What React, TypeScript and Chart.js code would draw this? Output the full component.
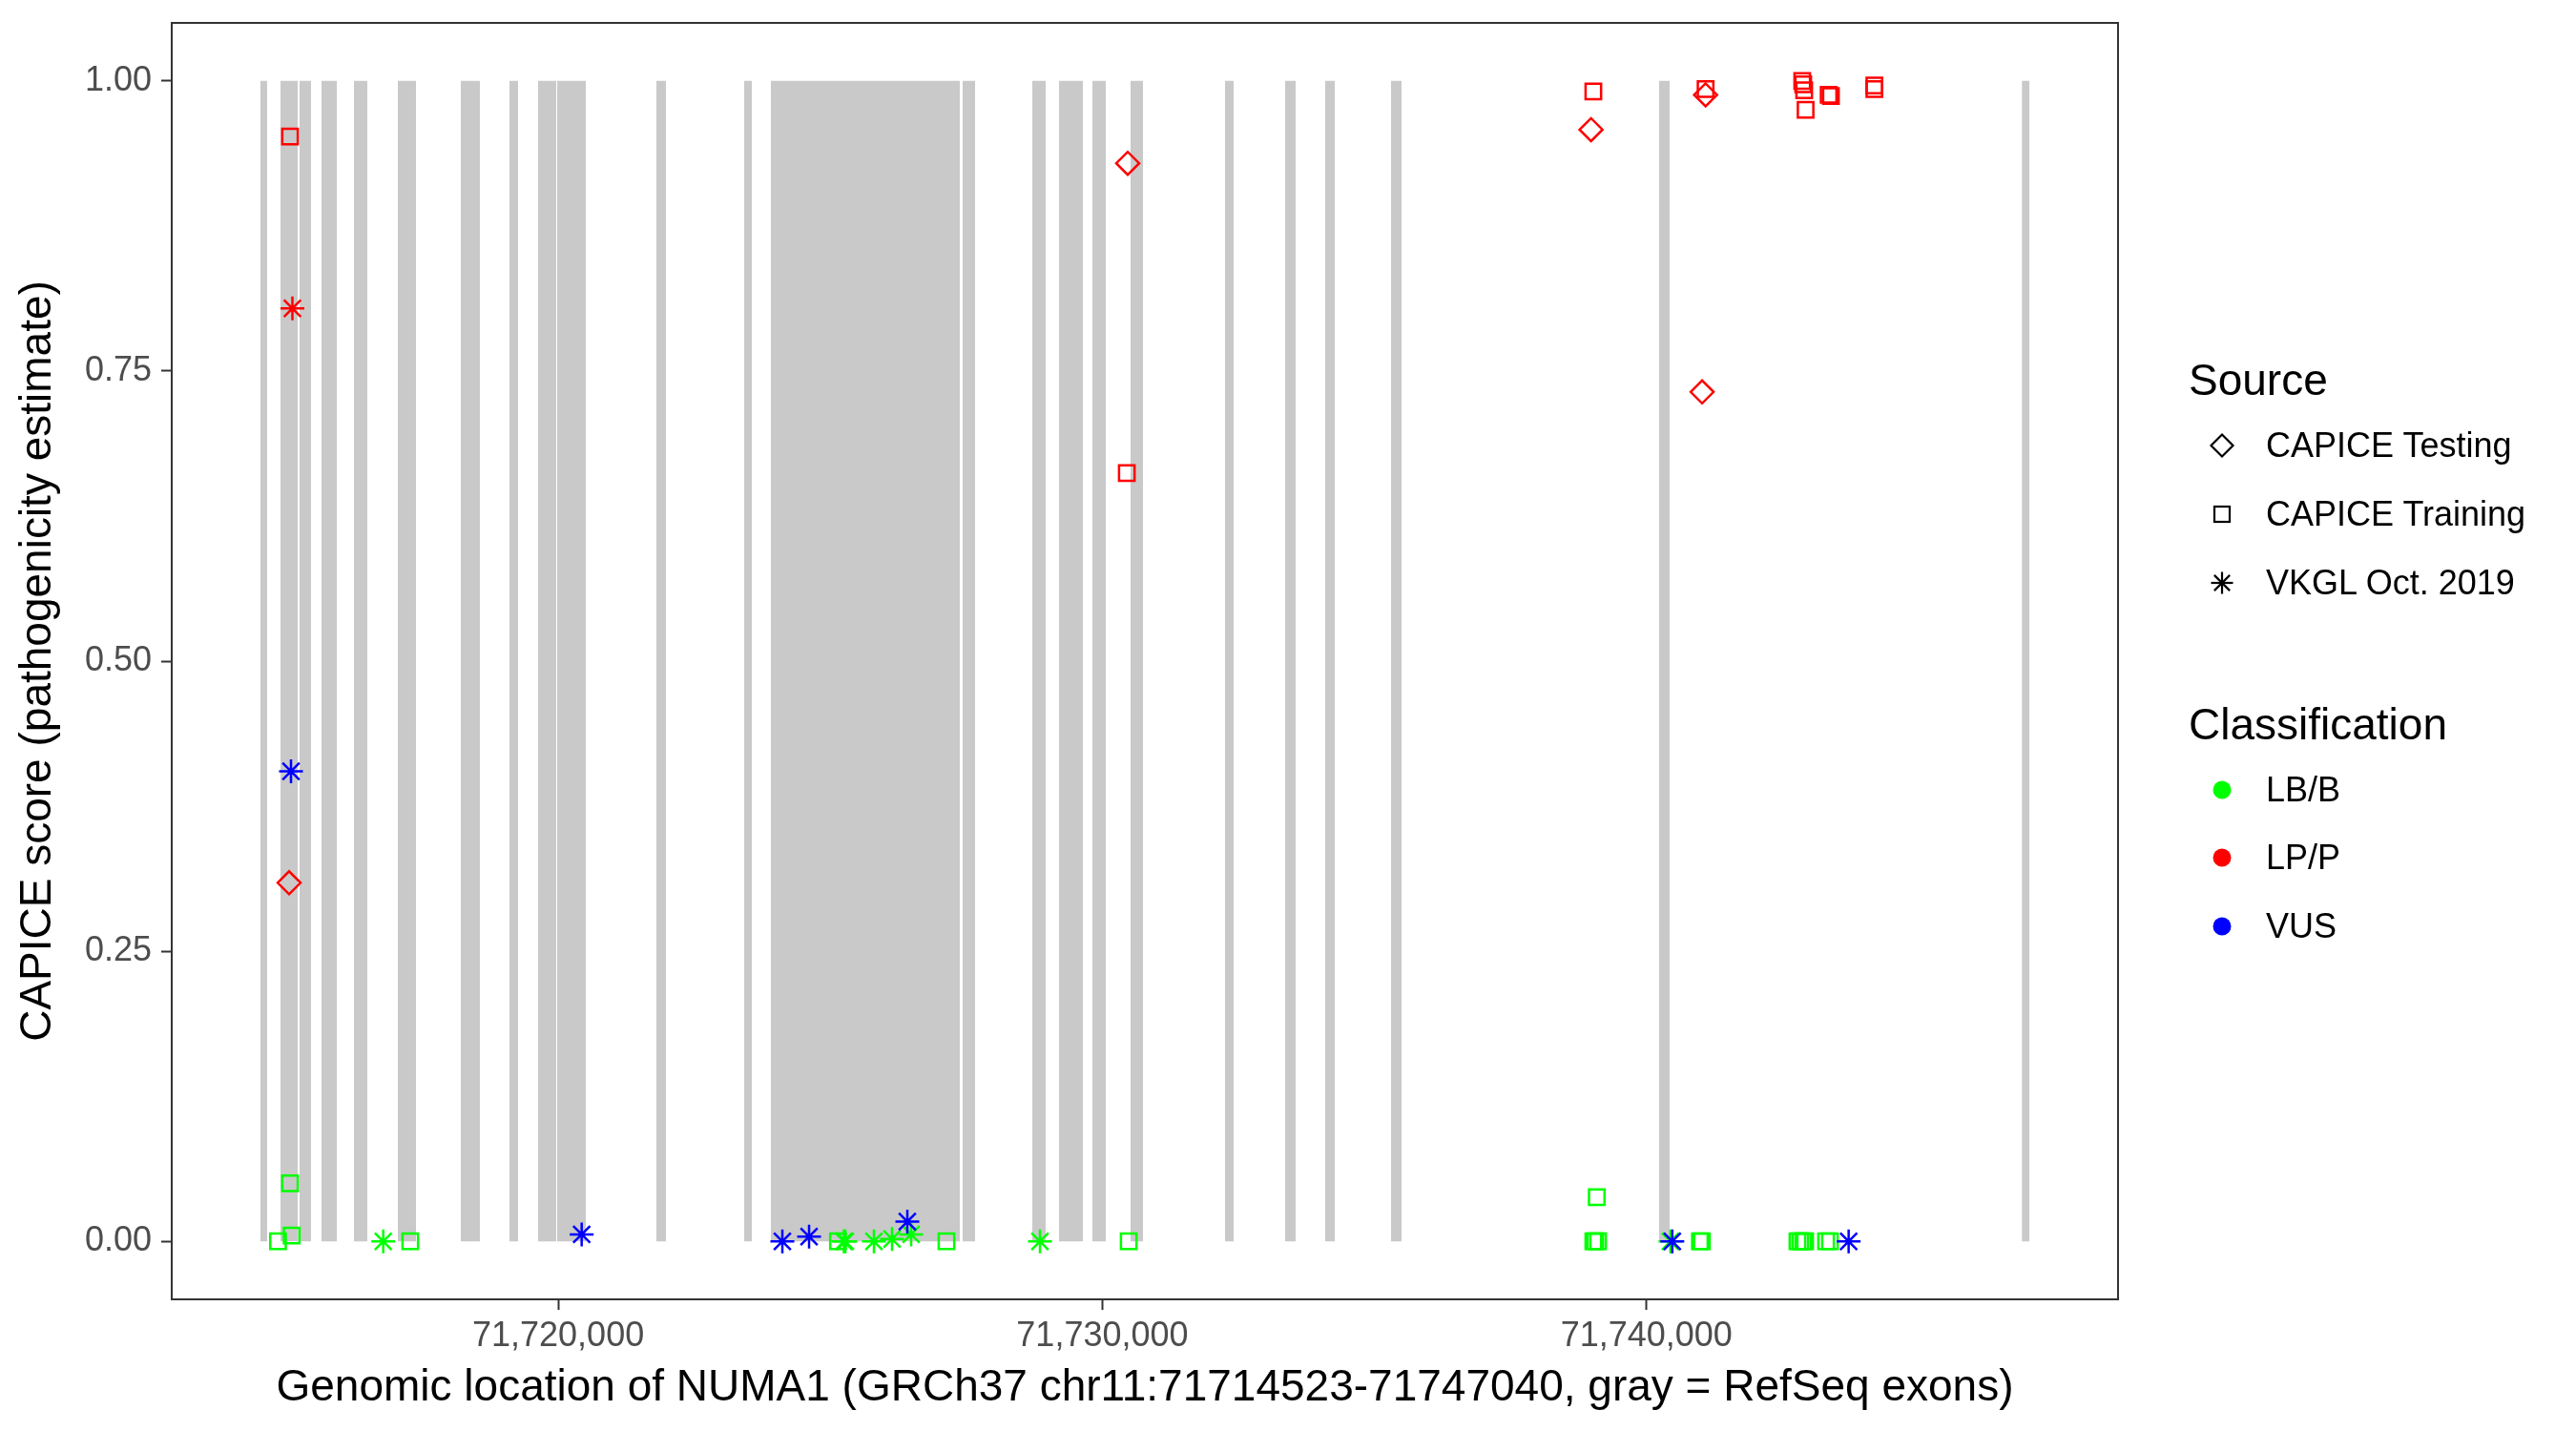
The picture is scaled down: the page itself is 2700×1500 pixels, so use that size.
import React, { useEffect, useRef } from 'react';
import { Chart, registerables } from 'chart.js';

Chart.register(...registerables);

const FONT = '"Liberation Sans", Arial, Helvetica, sans-serif';

// Gene region (GRCh37 chr11)
const GENE_START = 71714523;
const GENE_END = 71747040;

// RefSeq exons (gray)
const EXON_STARTS = [
  71714523, 71714896, 71715247, 71715650, 71716246, 71717053, 71718210, 71719104,
  71719630, 71719981, 71721804, 71723417, 71723908, 71727433, 71728713, 71729203,
  71729817, 71730518, 71732254, 71733359, 71734095, 71735305, 71740232, 71746900,
];
const EXON_ENDS = [
  71714650, 71715211, 71715457, 71715930, 71716491, 71717386, 71718560, 71719262,
  71719963, 71720507, 71721980, 71723558, 71727380, 71727661, 71728958, 71729642,
  71730063, 71730747, 71732412, 71733552, 71734271, 71735498, 71740425, 71747040,
];

// CAPICE Testing (diamond), LP/P
const TEST_LP_X = [71715054, 71730466, 71738981, 71741086, 71741022];
const TEST_LP_Y = [0.309, 0.929, 0.958, 0.988, 0.732];

// CAPICE Training (square), LP/P
const TRAIN_LP_X = [
  71715071, 71730449, 71739023, 71741086, 71742862, 71742880, 71742898, 71742924,
  71743348, 71743389, 71744188, 71744188,
];
const TRAIN_LP_Y = [0.952, 0.662, 0.991, 0.993, 1.0, 0.997, 0.992, 0.975, 0.988, 0.987, 0.996, 0.993];

// CAPICE Training (square), LB/B
const TRAIN_LB_X = [
  71714850, 71715101, 71715071, 71717281, 71725141, 71727135, 71730484, 71739086,
  71739023, 71739058, 71739111, 71740982, 71741017, 71742774, 71742827, 71742880,
  71742915, 71743300, 71743371,
];
const TRAIN_LB_Y = [
  0.0, 0.005, 0.05, 0.0, 0.0, 0.0, 0.0, 0.038,
  0.0, 0.0, 0.0, 0.0, 0.0, 0.0, 0.0, 0.0,
  0.0, 0.0, 0.0,
];

// VKGL Oct. 2019 (asterisk), LP/P
const VKGL_LP_X = [71715115];
const VKGL_LP_Y = [0.804];

// VKGL Oct. 2019 (asterisk), VUS
const VKGL_VUS_X = [71715089, 71720431, 71724119, 71724610, 71726416, 71740474, 71743715];
const VKGL_VUS_Y = [0.405, 0.006, 0.0, 0.004, 0.017, 0.0, 0.0];

// VKGL Oct. 2019 (asterisk), LB/B
const VKGL_LB_X = [71716784, 71725250, 71725276, 71725802, 71726135, 71726486, 71728853, 71740440];
const VKGL_LB_Y = [0.0, 0.0, 0.0, 0.0, 0.002, 0.006, 0.0, 0.0];

const X_TICKS = [71720000, 71730000, 71740000];
const Y_TICKS = [0, 0.25, 0.5, 0.75, 1.0];

const SOURCE_LABELS = ['CAPICE Testing', 'CAPICE Training', 'VKGL Oct. 2019'];
const SOURCE_SHAPES = ['diamond', 'square', 'asterisk'];
const CLASS_LABELS = ['LB/B', 'LP/P', 'VUS'];
const CLASS_COLORS = ['#00FF00', '#FF0000', '#0000FF'];

const X_TITLE = 'Genomic location of NUMA1 (GRCh37 chr11:71714523-71747040, gray = RefSeq exons)';
const Y_TITLE = 'CAPICE score (pathogenicity estimate)';

const toPts = (xs: number[], ys: number[]) => xs.map((x, i) => ({ x, y: ys[i] }));

const exonPath = () => {
  const pts: { x: number; y: number }[] = [];
  EXON_STARTS.forEach((s, i) => {
    const e = EXON_ENDS[i];
    pts.push({ x: s, y: 0 }, { x: s, y: 1 }, { x: e, y: 1 }, { x: e, y: 0 });
  });
  return pts;
};

const panelBorder = {
  id: 'panelBorder',
  afterDatasetsDraw(chart: any) {
    const { ctx, chartArea } = chart;
    ctx.save();
    ctx.strokeStyle = '#333333';
    ctx.lineWidth = 2;
    ctx.strokeRect(chartArea.left, chartArea.top, chartArea.right - chartArea.left, chartArea.bottom - chartArea.top);
    ctx.restore();
  },
};

const Marker = ({ kind, color }: { kind: string; color: string }) => {
  const c = 15;
  if (kind === 'diamond') {
    return (
      <svg width={30} height={30}>
        <polygon points={`${c},${c - 11.5} ${c + 11.5},${c} ${c},${c + 11.5} ${c - 11.5},${c}`} fill="none" stroke={color} strokeWidth={2.2} />
      </svg>
    );
  }
  if (kind === 'square') {
    return (
      <svg width={30} height={30}>
        <rect x={c - 8} y={c - 8} width={16} height={16} fill="none" stroke={color} strokeWidth={2.2} />
      </svg>
    );
  }
  if (kind === 'asterisk') {
    const r = 11.5;
    const d = r * Math.SQRT1_2;
    return (
      <svg width={30} height={30}>
        <g stroke={color} strokeWidth={2.2}>
          <line x1={c} y1={c - r} x2={c} y2={c + r} />
          <line x1={c - r} y1={c} x2={c + r} y2={c} />
          <line x1={c - d} y1={c - d} x2={c + d} y2={c + d} />
          <line x1={c - d} y1={c + d} x2={c + d} y2={c - d} />
        </g>
      </svg>
    );
  }
  return (
    <svg width={30} height={30}>
      <circle cx={c} cy={c} r={9.5} fill={color} />
    </svg>
  );
};

export default function App() {
  const canvasRef = useRef<HTMLCanvasElement | null>(null);

  useEffect(() => {
    if (!canvasRef.current) return;
    const span = GENE_END - GENE_START;
    const xMin = GENE_START - 0.05 * span;
    const xMax = GENE_END + 0.05 * span;

    const pointDs = (label: string, xs: number[], ys: number[], style: string, color: string, radius: number, order: number) => ({
      type: 'scatter' as const,
      label,
      data: toPts(xs, ys),
      pointStyle: style,
      pointRadius: radius,
      pointHoverRadius: radius,
      borderColor: color,
      backgroundColor: 'rgba(0,0,0,0)',
      pointBorderWidth: 2.5,
      borderWidth: 2.5,
      order,
    });

    const chart = new Chart(canvasRef.current, {
      type: 'scatter',
      data: {
        datasets: [
          {
            type: 'line' as const,
            label: 'exons',
            data: exonPath(),
            fill: 'origin',
            backgroundColor: 'rgb(201,201,201)',
            borderColor: 'rgba(0,0,0,0)',
            borderWidth: 0,
            pointRadius: 0,
            tension: 0,
            order: 100,
          } as any,
          pointDs('Training LB/B', TRAIN_LB_X, TRAIN_LB_Y, 'rect', CLASS_COLORS[0], 11.5, 40),
          pointDs('VKGL LB/B', VKGL_LB_X, VKGL_LB_Y, 'star', CLASS_COLORS[0], 12.5, 35),
          pointDs('Testing LP/P', TEST_LP_X, TEST_LP_Y, 'rectRot', CLASS_COLORS[1], 12, 30),
          pointDs('Training LP/P', TRAIN_LP_X, TRAIN_LP_Y, 'rect', CLASS_COLORS[1], 11.5, 25),
          pointDs('VKGL LP/P', VKGL_LP_X, VKGL_LP_Y, 'star', CLASS_COLORS[1], 12.5, 20),
          pointDs('VKGL VUS', VKGL_VUS_X, VKGL_VUS_Y, 'star', CLASS_COLORS[2], 12.5, 10),
        ] as any,
      },
      options: {
        responsive: false,
        animation: false,
        devicePixelRatio: 1,
        layout: { padding: { left: 0, top: 24, right: 480, bottom: 0 } },
        plugins: {
          legend: { display: false },
          tooltip: { enabled: false },
        },
        scales: {
          x: {
            type: 'linear',
            position: 'bottom',
            min: xMin,
            max: xMax,
            afterBuildTicks: (s: any) => {
              s.ticks = X_TICKS.map((v) => ({ value: v }));
            },
            afterFit: (s: any) => {
              s.height = 138;
              s.paddingLeft = 0;
              s.paddingRight = 0;
              s.paddingTop = 0;
              s.paddingBottom = 0;
            },
            grid: { drawOnChartArea: false, drawTicks: true, tickLength: 11, tickColor: '#333333', tickWidth: 2 },
            border: { display: false },
            ticks: {
              padding: 6,
              color: '#4D4D4D',
              font: { size: 36, family: FONT },
              maxRotation: 0,
              autoSkip: false,
              callback: (v: any) => Number(v).toLocaleString('en-US'),
            },
            title: {
              display: true,
              text: X_TITLE,
              color: '#000000',
              font: { size: 46, family: FONT },
              padding: { top: 0, bottom: 17 },
            },
          },
          y: {
            type: 'linear',
            position: 'left',
            min: -0.05,
            max: 1.05,
            afterBuildTicks: (s: any) => {
              s.ticks = Y_TICKS.map((v) => ({ value: v }));
            },
            afterFit: (s: any) => {
              s.width = 180;
              s.paddingLeft = 0;
              s.paddingRight = 0;
              s.paddingTop = 0;
              s.paddingBottom = 0;
            },
            grid: { drawOnChartArea: false, drawTicks: true, tickLength: 11, tickColor: '#333333', tickWidth: 2 },
            border: { display: false },
            ticks: {
              padding: 10,
              color: '#4D4D4D',
              font: { size: 36, family: FONT },
              autoSkip: false,
              callback: (v: any) => Number(v).toFixed(2),
            },
            title: {
              display: true,
              text: Y_TITLE,
              color: '#000000',
              font: { size: 46, family: FONT },
              padding: { top: 13, bottom: 0 },
            },
          },
        },
      } as any,
      plugins: [panelBorder],
    });
    return () => chart.destroy();
  }, []);

  const legendX = 2294;
  const keyX = 2329;
  const labelX = 2375;
  const sourceTitleY = 398;
  const sourceRows = [467, 539, 611];
  const classTitleY = 759;
  const classRows = [828, 899, 971];

  const textStyle = (y: number, size: number, x: number): React.CSSProperties => ({
    position: 'absolute',
    left: x,
    top: y - size / 2,
    fontSize: size,
    lineHeight: `${size}px`,
    fontFamily: FONT,
    color: '#000000',
    whiteSpace: 'nowrap',
  });
  const keyStyle = (y: number): React.CSSProperties => ({
    position: 'absolute',
    left: keyX - 15,
    top: y - 15,
    width: 30,
    height: 30,
  });

  return (
    <div style={{ position: 'absolute', left: 0, top: 0, width: 2700, height: 1500, background: '#ffffff', overflow: 'hidden' }}>
      <canvas ref={canvasRef} width={2700} height={1500} style={{ display: 'block', width: 2700, height: 1500 }} />
      <div style={textStyle(sourceTitleY, 46, legendX)}>Source</div>
      {SOURCE_LABELS.map((lab, i) => (
        <React.Fragment key={lab}>
          <div style={keyStyle(sourceRows[i])}>
            <Marker kind={SOURCE_SHAPES[i]} color="#000000" />
          </div>
          <div style={textStyle(sourceRows[i], 36, labelX)}>{lab}</div>
        </React.Fragment>
      ))}
      <div style={textStyle(classTitleY, 46, legendX)}>Classification</div>
      {CLASS_LABELS.map((lab, i) => (
        <React.Fragment key={lab}>
          <div style={keyStyle(classRows[i])}>
            <Marker kind="dot" color={CLASS_COLORS[i]} />
          </div>
          <div style={textStyle(classRows[i], 36, labelX)}>{lab}</div>
        </React.Fragment>
      ))}
    </div>
  );
}
